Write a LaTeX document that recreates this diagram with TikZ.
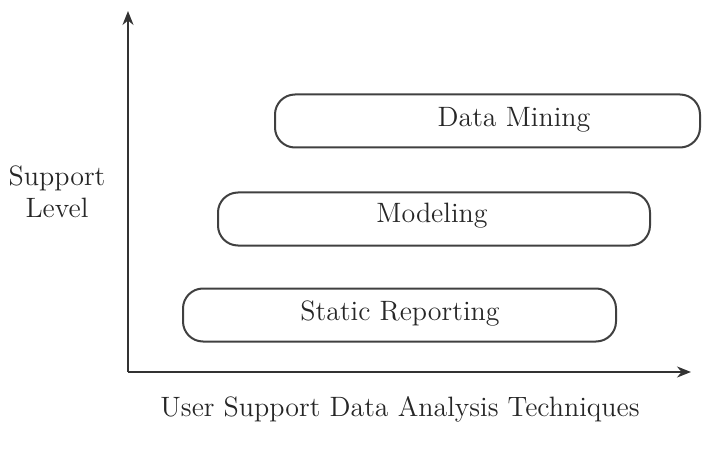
\documentclass[tikz,border=0pt]{standalone}
\usepackage{tikz}
\usetikzlibrary{arrows.meta,positioning}

\begin{document}
\begin{tikzpicture}[
    >={Stealth[length=7pt,width=5.5pt]},
    x=0.5pt, y=-0.5pt,
    font=\fontsize{14}{16}\selectfont,
    axis/.style={->,line width=0.9pt,black!80},
    stage/.style={draw=black!75,line width=1pt,rounded corners=10pt,
                  minimum height=26.5pt,inner sep=0pt},
    lbl/.style={align=center,text=black!85},
  ]
  \useasboundingbox (0,0) rectangle (702,449);

  % --- axes ---
  \coordinate (o) at (128,372);
  \coordinate (ytop) at (128,11);
  \coordinate (xend) at (691,372);
  \draw[axis] (o) -- (ytop);
  \draw[axis] (o) -- (xend);

  % --- technique boxes (bottom to top) ---
  \node[stage,minimum width=216.5pt] (sr) at (399.5,315) {};
  \node[stage,minimum width=216pt]   (md) at (434,219)   {};
  \node[stage,minimum width=212.5pt] (dm) at (487.5,121) {};

  \node[lbl] (srt) at (400,314) {Static Reporting};
  \node[lbl] (mdt) at (432,216) {Modeling};
  \node[lbl] (dmt) at (514,120) {Data Mining};

  % --- axis labels ---
  \node[lbl] (ylab) at (57,192) {Support\\Level};
  \node[lbl] (xlab) at (400,409) {User Support Data Analysis Techniques};

\end{tikzpicture}
\end{document}
